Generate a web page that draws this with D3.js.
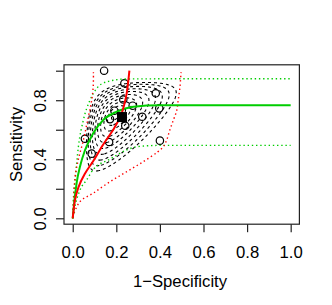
<!DOCTYPE html>
<html>
<head>
<meta charset="utf-8">
<script src="https://cdn.jsdelivr.net/npm/d3@7"></script>
<style>
  body { margin: 0; background: white; }
  text { font-family: "Liberation Sans", Arial, sans-serif; }
</style>
</head>
<body>
<div id="chart"></div>
<script>
// study points (1-specificity, sensitivity)
var studyFpr  = [0.144, 0.237, 0.381, 0.232, 0.275, 0.397, 0.191, 0.319, 0.171, 0.241, 0.400, 0.056, 0.167, 0.087];
var studySens = [1.000, 0.915, 0.847, 0.805, 0.763, 0.745, 0.729, 0.688, 0.672, 0.627, 0.526, 0.539, 0.517, 0.438];

// summary estimate
var summaryPoint = [0.226, 0.686];

// red SROC curve and its bounds
var redCurve = [[0,0],[0.01,0.12],[0.026,0.21],[0.055,0.30],[0.095,0.39],[0.14,0.50],[0.19,0.61],[0.222,0.70],[0.238,0.78],[0.248,0.85],[0.255,0.93],[0.26,1.0]];
var redLeft = [[0,0],[0.004,0.12],[0.011,0.28],[0.026,0.40],[0.049,0.53],[0.072,0.69],[0.087,0.80],[0.094,0.89],[0.095,0.99]];
var redRight = [[0,0.01],[0.033,0.113],[0.094,0.17],[0.171,0.248],[0.248,0.316],[0.324,0.384],[0.39,0.45],[0.416,0.485],[0.431,0.53],[0.446,0.60],[0.462,0.666],[0.477,0.73],[0.484,0.80],[0.492,0.89],[0.497,0.99]];

// green curve and its bounds
var greenCurve = [[0,0],[0.005,0.08],[0.018,0.24],[0.035,0.36],[0.056,0.46],[0.094,0.576],[0.14,0.666],[0.202,0.722],[0.278,0.756],[0.40,0.766],[0.6,0.766],[1.0,0.766]];
var greenUpper = [[0,0],[0.004,0.15],[0.011,0.26],[0.026,0.485],[0.049,0.666],[0.079,0.80],[0.11,0.88],[0.156,0.925],[0.248,0.944],[0.4,0.945],[1.0,0.945]];
var greenLower = [[0,0],[0.01,0.08],[0.033,0.19],[0.064,0.26],[0.094,0.33],[0.17,0.40],[0.248,0.463],[0.294,0.485],[0.40,0.494],[1.0,0.494]];

// density contours (logit space): centre, spread, correlation, relative levels
var contourCenter = [-1.4, 0.85];
var contourSpread = [1.3, 1.6];
var contourRho = 0.55;
var contourLevels = [0.1, 0.2, 0.3, 0.4, 0.5, 0.6, 0.7, 0.8, 0.9, 1.0];

var xTicks = [0, 0.2, 0.4, 0.6, 0.8, 1.0];
var yTicks = [0, 0.2, 0.4, 0.6, 0.8, 1.0];
var yTickLabels = ["0.0", "", "0.4", "", "0.8", ""];

var W = 332, H = 305;
var plotL = 64, plotR = 299.4, plotT = 64.8, plotB = 224.2;

var svg = d3.select("#chart").append("svg")
  .attr("width", W).attr("height", H);

var x = d3.scaleLinear().domain([-0.04, 1.04]).range([plotL, plotR]);
var y = d3.scaleLinear().domain([-0.04, 1.04]).range([plotB, plotT]);

// contours
var n = 260;
var logit = function(p) { return Math.log(p / (1 - p)); };
var values = new Float64Array(n * n);
for (var j = 0; j < n; j++) {
  for (var i = 0; i < n; i++) {
    var lx = logit((i + 0.5) / n), ly = logit(1 - (j + 0.5) / n);
    var dx = (lx - contourCenter[0]) / contourSpread[0];
    var dy = (ly - contourCenter[1]) / contourSpread[1];
    var q = (dx * dx - 2 * contourRho * dx * dy + dy * dy) / (1 - contourRho * contourRho);
    values[j * n + i] = -Math.sqrt(q);
  }
}
var contours = d3.contours().size([n, n])
  .thresholds(contourLevels.map(function(r) { return -r; }))(values);
var proj = d3.geoTransform({
  point: function(px, py) { this.stream.point(x(px / n), y(1 - py / n)); }
});
svg.append("g").selectAll("path")
  .data(contours).enter().append("path")
  .attr("d", d3.geoPath(proj))
  .attr("fill", "none")
  .attr("stroke", "black")
  .attr("stroke-width", 1.1)
  .attr("stroke-dasharray", "3,3");

// study points
svg.append("g").selectAll("circle")
  .data(studyFpr).enter().append("circle")
  .attr("cx", function(d) { return x(d); })
  .attr("cy", function(d, i) { return y(studySens[i]); })
  .attr("r", 3.7)
  .attr("fill", "none")
  .attr("stroke", "black")
  .attr("stroke-width", 1.2);

// curves
var lineC = d3.line().x(function(d) { return x(d[0]); }).y(function(d) { return y(d[1]); }).curve(d3.curveCatmullRom);
var lineM = d3.line().x(function(d) { return x(d[0]); }).y(function(d) { return y(d[1]); }).curve(d3.curveMonotoneX);

function drawCurve(data, gen, color, width, dash) {
  svg.append("path").datum(data)
    .attr("d", gen)
    .attr("fill", "none")
    .attr("stroke", color)
    .attr("stroke-width", width)
    .attr("stroke-dasharray", dash);
}
drawCurve(greenUpper, lineM, "#00CD00", 1.4, "1.4,2.8");
drawCurve(greenLower, lineM, "#00CD00", 1.4, "1.4,2.8");
drawCurve(redLeft, lineC, "#FF0000", 1.4, "1.4,2.8");
drawCurve(redRight, lineC, "#FF0000", 1.4, "1.4,2.8");
drawCurve(greenCurve, lineM, "#00CD00", 2, null);
drawCurve(redCurve, lineC, "#FF0000", 2, null);

// summary point
svg.append("rect")
  .attr("x", x(summaryPoint[0]) - 5)
  .attr("y", y(summaryPoint[1]) - 5)
  .attr("width", 10).attr("height", 10)
  .attr("fill", "black");

// box
svg.append("rect")
  .attr("x", plotL).attr("y", plotT)
  .attr("width", plotR - plotL).attr("height", plotB - plotT)
  .attr("fill", "none").attr("stroke", "#222").attr("stroke-width", 1.2);

// axes
var xAxis = svg.append("g").attr("transform", "translate(0," + plotB + ")")
  .call(d3.axisBottom(x).tickValues(xTicks).tickSize(8).tickPadding(14).tickFormat(d3.format(".1f")));
xAxis.select(".domain").remove();
xAxis.selectAll("line").attr("stroke", "#222").attr("stroke-width", 1.2);
xAxis.selectAll("text").attr("font-size", "16.7px").attr("fill", "black")
  .attr("font-family", "Liberation Sans, Arial, sans-serif");

var yAxis = svg.append("g").attr("transform", "translate(" + plotL + ",0)")
  .call(d3.axisLeft(y).tickValues(yTicks).tickSize(8).tickFormat(function(d, i) { return yTickLabels[i]; }));
yAxis.select(".domain").remove();
yAxis.selectAll("line").attr("stroke", "#222").attr("stroke-width", 1.2);
yAxis.selectAll("text")
  .attr("x", 0).attr("dy", null)
  .attr("text-anchor", "middle")
  .attr("transform", "translate(-18,0) rotate(-90)")
  .attr("font-size", "16.7px").attr("fill", "black")
  .attr("font-family", "Liberation Sans, Arial, sans-serif");

// titles
svg.append("text")
  .attr("x", 180).attr("y", 287)
  .attr("text-anchor", "middle")
  .attr("font-size", "16.7px")
  .text("1\u2212Specificity");
svg.append("text")
  .attr("transform", "translate(21.5," + ((plotT + plotB) / 2) + ") rotate(-90)")
  .attr("text-anchor", "middle")
  .attr("font-size", "16.7px")
  .text("Sensitivity");
</script>
</body>
</html>
